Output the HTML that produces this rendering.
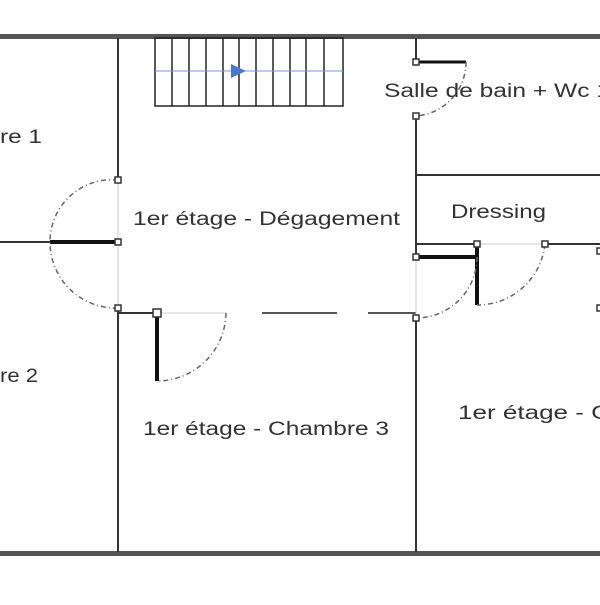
<!DOCTYPE html><html><head><style>body{margin:0;background:#fff}</style></head><body>
<svg width="600" height="600" viewBox="0 0 600 600" xmlns="http://www.w3.org/2000/svg" font-family="Liberation Sans, sans-serif">
<rect width="600" height="600" fill="#fff"/>
<rect x="0" y="34" width="600" height="5" fill="#555"/>
<rect x="0" y="551" width="600" height="5" fill="#555"/>
<g stroke="#333" stroke-width="2" fill="none">
<line x1="118" y1="38" x2="118" y2="180"/>
<line x1="118" y1="308" x2="118" y2="552"/>
<line x1="416" y1="38" x2="416" y2="62"/>
<line x1="416" y1="116" x2="416" y2="257"/>
<line x1="416" y1="318" x2="416" y2="552"/>
<line x1="0" y1="242" x2="50" y2="242"/>
<line x1="416" y1="175" x2="600" y2="175"/>
<line x1="416" y1="244" x2="477" y2="244"/>
<line x1="545" y1="244" x2="600" y2="244"/>
<line x1="118" y1="313" x2="157" y2="313"/>
<line x1="262" y1="313" x2="337" y2="313" stroke="#555"/>
<line x1="368" y1="313" x2="416" y2="313" stroke="#555"/>
</g>
<g stroke="#ccc" stroke-width="1"><line x1="118" y1="180" x2="118" y2="308"/><line x1="157" y1="313" x2="226" y2="313"/><line x1="477" y1="244" x2="545" y2="244"/><line x1="416" y1="257" x2="416" y2="318"/></g>
<g stroke="#111" stroke-width="4"><line x1="50" y1="242" x2="118" y2="242"/><line x1="157" y1="313" x2="157" y2="381"/><line x1="477" y1="244" x2="477" y2="305"/><line x1="416" y1="257" x2="477" y2="257"/><line x1="416" y1="62" x2="466" y2="62" stroke-width="3"/></g>
<g stroke="#666" stroke-width="1.5" fill="none" stroke-dasharray="5,3,1,3">
<path d="M118 180 A62 62 0 0 0 50 242 A66 66 0 0 0 118 308"/>
<path d="M226 313 A69 69 0 0 1 157 381"/>
<path d="M545 244 A68 68 0 0 1 477 305"/>
<path d="M477 257 A61 61 0 0 1 416 318"/>
<path d="M466 62 A54 54 0 0 1 416 116"/>
</g>
<g fill="#fff" stroke="#333" stroke-width="1.5">
<rect x="115" y="177" width="6" height="6"/><rect x="115" y="239" width="6" height="6"/><rect x="115" y="305" width="6" height="6"/>
<rect x="153" y="309" width="8" height="8"/>
<rect x="413" y="59" width="6" height="6"/><rect x="413" y="113" width="6" height="6"/>
<rect x="413" y="254" width="6" height="6"/><rect x="413" y="315" width="6" height="6"/>
<rect x="474" y="241" width="6" height="6"/><rect x="542" y="241" width="6" height="6"/>
<rect x="597" y="248" width="6" height="6"/><rect x="597" y="305" width="6" height="6"/>
</g>
<g stroke="#222" stroke-width="1.5" fill="none">
<rect x="155" y="38" width="188" height="68"/>
<line x1="172" y1="38" x2="172" y2="106"/><line x1="189" y1="38" x2="189" y2="106"/><line x1="206" y1="38" x2="206" y2="106"/><line x1="223" y1="38" x2="223" y2="106"/><line x1="239" y1="38" x2="239" y2="106"/><line x1="256" y1="38" x2="256" y2="106"/><line x1="273" y1="38" x2="273" y2="106"/><line x1="290" y1="38" x2="290" y2="106"/><line x1="306" y1="38" x2="306" y2="106"/><line x1="324" y1="38" x2="324" y2="106"/>
</g>
<line x1="155" y1="71" x2="343" y2="71" stroke="#7a9ad0" stroke-width="1"/>
<polygon points="231,64 246,71 231,78" fill="#4a78d0"/>
<g fill="#333" font-size="19" lengthAdjust="spacingAndGlyphs">
<text x="0" y="143" textLength="42" lengthAdjust="spacingAndGlyphs">re 1</text>
<text x="0" y="382" textLength="38" lengthAdjust="spacingAndGlyphs">re 2</text>
<text x="133" y="225" textLength="267" lengthAdjust="spacingAndGlyphs">1er étage - Dégagement</text>
<text x="451" y="218" textLength="95" lengthAdjust="spacingAndGlyphs">Dressing</text>
<text x="384" y="97" textLength="226" lengthAdjust="spacingAndGlyphs">Salle de bain + Wc 1</text>
<text x="143" y="435" textLength="246" lengthAdjust="spacingAndGlyphs">1er étage - Chambre 3</text>
<text x="458" y="419" textLength="152" lengthAdjust="spacingAndGlyphs">1er étage - C</text>
</g>
</svg>
</body></html>
